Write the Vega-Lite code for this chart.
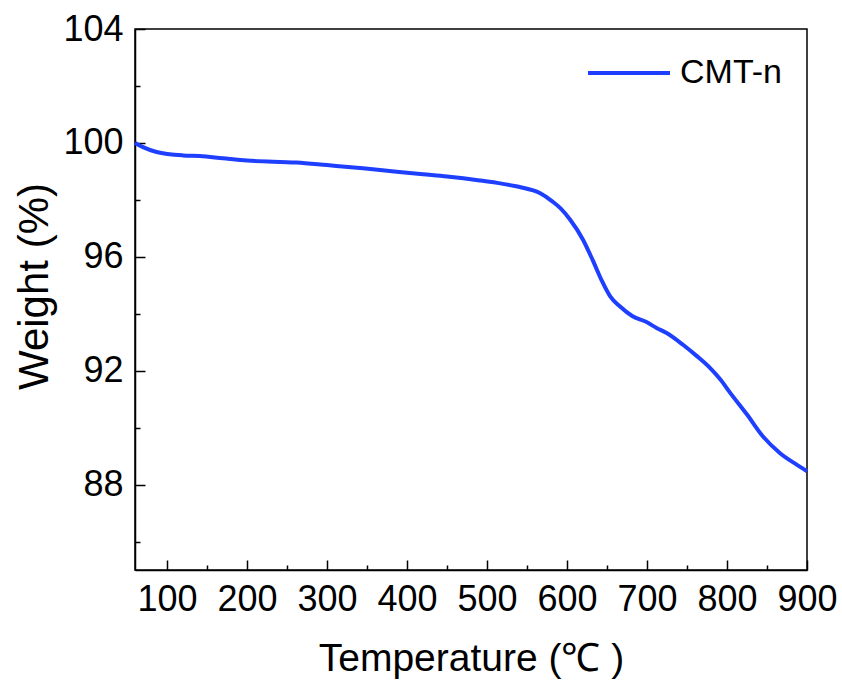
{
  "$schema": "https://vega.github.io/schema/vega-lite/v6.json",
  "width": 672,
  "height": 541,
  "autosize": "none",
  "padding": {"left": 135, "top": 29, "right": 35, "bottom": 111},
  "background": "white",
  "config": {
    "view": {"stroke": "black", "strokeWidth": 1.5},
    "font": "Liberation Sans",
    "axis": {
      "grid": false,
      "domainColor": "black",
      "domainWidth": 1.5,
      "tickColor": "black",
      "tickWidth": 1.5,
      "labelColor": "black",
      "titleColor": "black",
      "titleFontWeight": "normal",
      "labelFont": "Liberation Sans",
      "titleFont": "Liberation Sans"
    }
  },
  "data": {
    "values": [
      {"T": 60, "W": 100.0},
      {"T": 70, "W": 99.85},
      {"T": 87, "W": 99.68},
      {"T": 120, "W": 99.56},
      {"T": 141, "W": 99.54},
      {"T": 170, "W": 99.46},
      {"T": 200, "W": 99.38},
      {"T": 262, "W": 99.31},
      {"T": 300, "W": 99.22},
      {"T": 345, "W": 99.11},
      {"T": 387, "W": 98.99},
      {"T": 420, "W": 98.9},
      {"T": 450, "W": 98.82},
      {"T": 491, "W": 98.68},
      {"T": 520, "W": 98.56},
      {"T": 541, "W": 98.45},
      {"T": 566, "W": 98.24},
      {"T": 582, "W": 97.94},
      {"T": 592, "W": 97.7},
      {"T": 604, "W": 97.3},
      {"T": 620, "W": 96.6},
      {"T": 632, "W": 95.89},
      {"T": 643, "W": 95.19},
      {"T": 654, "W": 94.61},
      {"T": 666, "W": 94.26},
      {"T": 682, "W": 93.91},
      {"T": 700, "W": 93.7},
      {"T": 712, "W": 93.5},
      {"T": 724, "W": 93.33},
      {"T": 745, "W": 92.91},
      {"T": 762, "W": 92.52},
      {"T": 779, "W": 92.09},
      {"T": 792, "W": 91.68},
      {"T": 804, "W": 91.22},
      {"T": 825, "W": 90.46},
      {"T": 845, "W": 89.69},
      {"T": 866, "W": 89.11},
      {"T": 887, "W": 88.7},
      {"T": 900, "W": 88.47}
    ]
  },
  "layer": [
    {
      "mark": {"type": "line", "strokeWidth": 4, "interpolate": "monotone"},
      "encoding": {
        "x": {
          "field": "T", "type": "quantitative",
          "scale": {"domain": [60, 900], "nice": false, "zero": false},
          "axis": {
            "orient": "bottom",
            "values": [100, 200, 300, 400, 500, 600, 700, 800, 900],
            "tickSize": -10,
            "labelFontSize": 36,
            "labelPadding": 22,
            "labelFlush": false,
            "title": "Temperature (℃ )",
            "titleFontSize": 39,
            "titlePadding": 22
          }
        },
        "y": {
          "field": "W", "type": "quantitative",
          "scale": {"domain": [85, 104], "nice": false, "zero": false},
          "axis": {
            "orient": "left",
            "values": [88, 92, 96, 100, 104],
            "tickSize": -10,
            "labelFontSize": 36,
            "labelPadding": 22,
            "labelFlush": false,
            "title": "Weight (%)",
            "titleFontSize": 42,
            "titlePadding": 6,
            "titleY": 257
          }
        },
        "stroke": {
          "datum": "CMT-n", "type": "nominal",
          "scale": {"range": ["#1f3fff"]},
          "legend": {
            "title": null,
            "orient": "none",
            "legendX": 451,
            "legendY": 1,
            "padding": 0,
            "symbolType": "stroke",
            "symbolSize": 6724,
            "symbolStrokeWidth": 4,
            "labelFontSize": 34,
            "labelColor": "black",
            "labelOffset": 8,
            "labelFont": "Liberation Sans"
          }
        }
      }
    },
    {
      "mark": {"type": "line", "opacity": 0},
      "encoding": {
        "x": {
          "field": "T", "type": "quantitative",
          "scale": {"domain": [60, 900], "nice": false, "zero": false},
          "axis": {
            "orient": "bottom",
            "values": [150, 250, 350, 450, 550, 650, 750, 850],
            "tickSize": -5,
            "labels": false,
            "domain": false,
            "title": null
          }
        },
        "y": {
          "field": "W", "type": "quantitative",
          "scale": {"domain": [85, 104], "nice": false, "zero": false},
          "axis": {
            "orient": "left",
            "values": [86, 90, 94, 98, 102],
            "tickSize": -5,
            "labels": false,
            "domain": false,
            "title": null
          }
        }
      }
    }
  ],
  "resolve": {"axis": {"x": "independent", "y": "independent"}}
}
